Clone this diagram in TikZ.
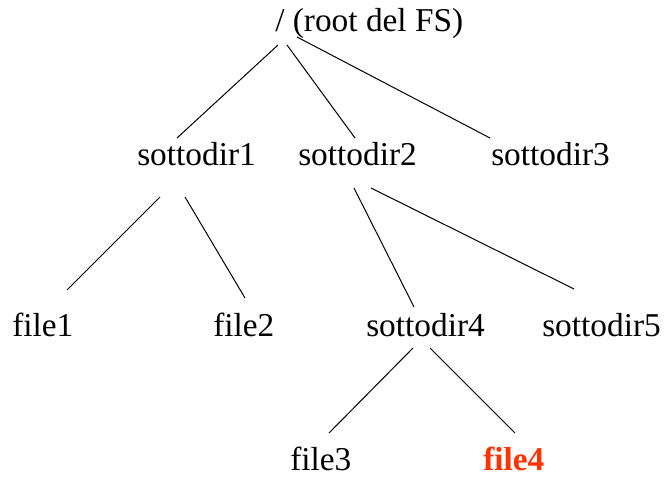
\documentclass[tikz,border=0pt]{standalone}
\usepackage{fontspec}
\setmainfont{Liberation Serif}
\usetikzlibrary{calc}
\definecolor{hot}{RGB}{255,51,0}
\begin{document}
\begin{tikzpicture}[x=0.75pt,y=-0.75pt,
  lbl/.style={inner sep=0pt,anchor=base west,font=\fontsize{25}{29}\selectfont},
  edge/.style={draw=black,line width=0.75pt}]
\useasboundingbox (0,0) rectangle (664,477);
\node[lbl] (root) at (275,32) {/ (root del FS)};
\node[lbl] (s1) at (137,166) {sottodir1};
\node[lbl] (s2) at (298,166) {sottodir2};
\node[lbl] (s3) at (491,166) {sottodir3};
\node[lbl] (f1) at (12,336) {file1};
\node[lbl] (f2) at (213,336) {file2};
\node[lbl] (s4) at (366,336) {sottodir4};
\node[lbl] (s5) at (542,336) {sottodir5};
\node[lbl] (f3) at (290,470) {file3};
\node[lbl,text=hot,font=\fontsize{25}{29}\selectfont\bfseries] (f4) at (483,470) {file4};
% end points relative to the nodes
\coordinate (ra) at ($(root.base west)+(3,13)$);
\coordinate (rb) at ($(root.base west)+(12,13)$);
\coordinate (rc) at ($(root.base west)+(22,5)$);
\coordinate (s1t) at ($(s1.base west)+(40,-28)$);
\coordinate (s2t) at ($(s2.base west)+(57,-28)$);
\coordinate (s3t) at ($(s3.base west)+(-1,-28)$);
\coordinate (s1a) at ($(s1.base west)+(23,31)$);
\coordinate (s1b) at ($(s1.base west)+(48,31)$);
\coordinate (f1t) at ($(f1.base west)+(55,-46)$);
\coordinate (f2t) at ($(f2.base west)+(32,-38)$);
\coordinate (s2a) at ($(s2.base west)+(56,22)$);
\coordinate (s2b) at ($(s2.base west)+(73,22)$);
\coordinate (s4t) at ($(s4.base west)+(48,-29)$);
\coordinate (s5t) at ($(s5.base west)+(32,-47)$);
\coordinate (s4a) at ($(s4.base west)+(47,12)$);
\coordinate (s4b) at ($(s4.base west)+(64,12)$);
\coordinate (f3t) at ($(f3.base west)+(39,-37)$);
\coordinate (f4t) at ($(f4.base west)+(32,-37)$);
\draw[edge] (ra) -- (s1t);
\draw[edge] (rb) -- (s2t);
\draw[edge] (rc) -- (s3t);
\draw[edge] (s1a) -- (f1t);
\draw[edge] (s1b) -- (f2t);
\draw[edge] (s2a) -- (s4t);
\draw[edge] (s2b) -- (s5t);
\draw[edge] (s4a) -- (f3t);
\draw[edge] (s4b) -- (f4t);
\end{tikzpicture}
\end{document}
